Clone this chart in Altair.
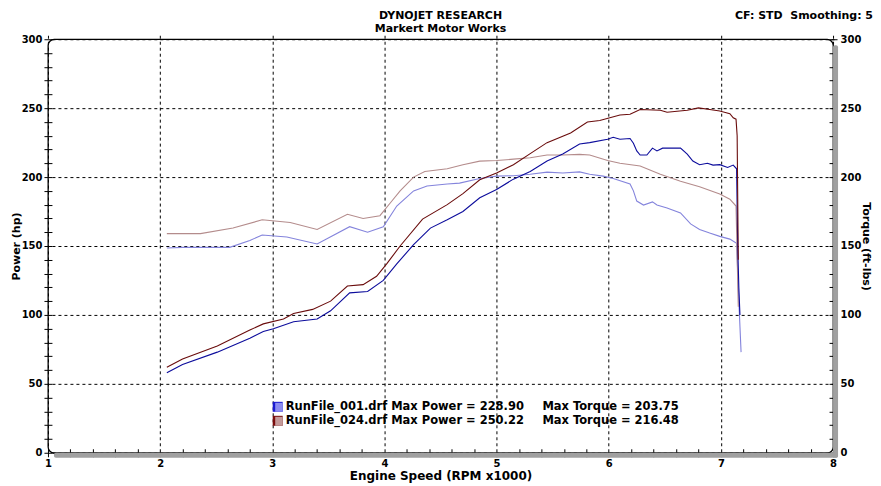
import altair as alt
import pandas as pd

# ---------------- data ----------------
rpm_p001 = [2.06, 2.20, 2.51, 2.80, 2.92, 3.01, 3.19, 3.40, 3.52, 3.69, 3.85, 3.99, 4.11, 4.26, 4.41,
            4.56, 4.70, 4.85, 5.00, 5.15, 5.30, 5.45, 5.59, 5.74, 5.83, 5.99, 6.04, 6.10, 6.19, 6.22,
            6.25, 6.28, 6.34, 6.39, 6.43, 6.48, 6.55, 6.64, 6.70, 6.75, 6.81, 6.88, 6.93, 6.99, 7.06,
            7.11, 7.14, 7.15, 7.16, 7.17]
pow_001 = [58, 64, 73, 83, 88, 90, 95, 97, 103, 116, 117, 125, 137, 151, 163,
           169, 175, 185, 191, 198.5, 204, 211.6, 216.7, 224, 225, 227.5, 228.9, 227.5, 228, 224.6,
           219, 216, 216, 221, 219, 221, 221, 221, 216.7, 211.6, 209, 210, 208.7, 209, 207,
           208.7, 206, 150, 120, 100]

rpm_p024 = [2.06, 2.20, 2.51, 2.80, 2.92, 3.10, 3.19, 3.36, 3.52, 3.67, 3.81, 3.93, 4.02, 4.14, 4.34,
            4.56, 4.70, 4.85, 5.00, 5.15, 5.30, 5.45, 5.66, 5.81, 5.92, 6.01, 6.10, 6.19, 6.28, 6.46,
            6.52, 6.70, 6.80, 6.90, 6.99, 7.08, 7.11, 7.135, 7.145, 7.155]
pow_024 = [62, 68, 77.5, 89, 93.5, 97, 101, 104, 110, 121, 122, 128, 137, 150, 169.5,
           180, 188, 198, 203, 209, 217, 225, 232, 240, 241, 243, 245, 245.6, 249, 248.5,
           247, 248.5, 250.2, 249, 248, 246, 243, 242, 230, 140]

rpm_t001 = [2.06, 2.20, 2.62, 2.80, 2.91, 3.13, 3.40, 3.69, 3.85, 3.99, 4.11, 4.26, 4.38, 4.56, 4.67,
            4.85, 5.00, 5.15, 5.30, 5.45, 5.59, 5.74, 5.83, 5.95, 6.04, 6.19, 6.22, 6.25, 6.31, 6.39,
            6.43, 6.52, 6.64, 6.73, 6.81, 6.90, 6.99, 7.08, 7.14, 7.16, 7.18]
trq_001 = [148.5, 149, 149, 154, 158, 156.5, 151.5, 164, 160, 164, 179, 190, 193.5, 195, 195.6,
           199, 200.7, 201, 202, 203.6, 203, 203.75, 202, 200.7, 199, 195, 190, 182.6, 179.7, 182,
           179.7, 177.5, 174, 166, 162, 159.4, 157, 155, 152, 110, 73]

rpm_t024 = [2.06, 2.36, 2.65, 2.91, 3.16, 3.40, 3.67, 3.81, 3.96, 4.05, 4.14, 4.26, 4.36, 4.56, 4.70,
            4.85, 5.00, 5.15, 5.30, 5.45, 5.59, 5.74, 5.83, 5.99, 6.10, 6.28, 6.46, 6.64, 6.81, 6.99,
            7.08, 7.135, 7.155]
trq_024 = [159, 159, 163, 169, 167, 162, 173, 170, 172, 181, 190, 200, 204, 206, 209,
           211.6, 212, 213, 214, 216, 216, 216.48, 216, 212, 210, 208, 202, 197, 193, 187.7,
           184, 179, 106]

series_names = ["RunFile_001 Power", "RunFile_001 Torque", "RunFile_024 Power", "RunFile_024 Torque"]
series_colors = ["#0c0c9c", "#8484dc", "#6a0c0c", "#b48c8c"]

legend_files = ["RunFile_001.drf", "RunFile_024.drf"]
legend_max_power = [228.90, 250.22]
legend_max_torque = [203.75, 216.48]
legend_dark = ["#1a1ad0", "#7a0c0c"]
legend_light = ["#8c8cf0", "#c49a9a"]

# ---------------- tables ----------------
power_df = pd.concat([
    pd.DataFrame({"rpm": rpm_p001, "value": pow_001, "series": series_names[0]}),
    pd.DataFrame({"rpm": rpm_p024, "value": pow_024, "series": series_names[2]}),
])
torque_df = pd.concat([
    pd.DataFrame({"rpm": rpm_t001, "value": trq_001, "series": series_names[1]}),
    pd.DataFrame({"rpm": rpm_t024, "value": trq_024, "series": series_names[3]}),
])

W, H = 786, 414
FONT = "DejaVu Sans"

x_vals = [round(1 + 0.2 * i, 1) for i in range(36)]
y_vals = list(range(0, 301, 10))

is_int = "abs(datum.value - round(datum.value)) < 0.001"
is_50 = "datum.value % 50 === 0"

x_axis = alt.Axis(
    values=x_vals, title="Engine Speed (RPM x1000)",
    labelExpr=f"{is_int} ? format(datum.value, 'd') : ''",
    grid=True, gridOpacity={"condition": {"test": is_int, "value": 1}, "value": 0},
    labelOverlap=False, labelFlush=False, labelPadding=2, titlePadding=2,
    titleFontSize=12,
)
left_axis = alt.Axis(
    values=y_vals, orient="left", title="Power (hp)",
    labelExpr=f"{is_50} ? datum.label : ''",
    grid=True, gridOpacity={"condition": {"test": is_50, "value": 1}, "value": 0},
    labelOverlap=False, labelPadding=2, titlePadding=0,
)
right_axis = alt.Axis(
    values=y_vals, orient="right", title="Torque (ft-lbs)",
    labelExpr=f"{is_50} ? datum.label : ''",
    grid=False, labelOverlap=False, labelPadding=3, titlePadding=0,
)

color = alt.Color("series:N", scale=alt.Scale(domain=series_names, range=series_colors), legend=None)
xenc = alt.X("rpm:Q", scale=alt.Scale(domain=[1, 8], nice=False, zero=False), axis=x_axis)

power = alt.Chart(power_df).mark_line(strokeWidth=1.1).encode(
    x=xenc,
    y=alt.Y("value:Q", scale=alt.Scale(domain=[0, 300], nice=False), axis=left_axis),
    color=color, order=alt.Order("rpm:Q"),
)
torque = alt.Chart(torque_df).mark_line(strokeWidth=1.1).encode(
    x=xenc,
    y=alt.Y("value:Q", scale=alt.Scale(domain=[0, 300], nice=False), axis=right_axis),
    color=color, order=alt.Order("rpm:Q"),
)

one = pd.DataFrame({"a": [0]})

# drop shadow of the frame
shadow_r = alt.Chart(one).mark_rect(color="#a0a0a0", cornerRadius=2).encode(
    x=alt.value(W), x2=alt.value(W + 5), y=alt.value(6), y2=alt.value(H + 5))
shadow_b = alt.Chart(one).mark_rect(color="#a0a0a0", cornerRadius=2).encode(
    x=alt.value(6), x2=alt.value(W + 5), y=alt.value(H), y2=alt.value(H + 5))

# header texts
hdr_style = dict(font=FONT, fontWeight="bold", fontSize=11, color="black", baseline="middle")
hdr1 = alt.Chart(one).mark_text(align="center", **hdr_style).encode(
    x=alt.value(W / 2), y=alt.value(-23), text=alt.value("DYNOJET RESEARCH"))
hdr2 = alt.Chart(one).mark_text(align="center", **hdr_style).encode(
    x=alt.value(W / 2), y=alt.value(-10), text=alt.value("Markert Motor Works"))
hdr3 = alt.Chart(one).mark_text(align="right", **hdr_style).encode(
    x=alt.value(W + 40), y=alt.value(-23), text=alt.value("CF: STD\u00a0 Smoothing: 5"))

# in-plot legend
leg_style = dict(font=FONT, fontWeight="bold", fontSize=11.5, color="black", baseline="middle")
leg_layers = []
for i, (fname, mp, mt) in enumerate(zip(legend_files, legend_max_power, legend_max_torque)):
    yc = 368 + 14 * i
    leg_layers.append(alt.Chart(one).mark_rect(color=legend_dark[i]).encode(
        x=alt.value(225), x2=alt.value(235), y=alt.value(yc - 5), y2=alt.value(yc + 5)))
    leg_layers.append(alt.Chart(one).mark_rect(color=legend_light[i]).encode(
        x=alt.value(227.5), x2=alt.value(235), y=alt.value(yc - 4), y2=alt.value(yc + 5)))
    leg_layers.append(alt.Chart(one).mark_text(align="left", **leg_style).encode(
        x=alt.value(238), y=alt.value(yc), text=alt.value(f"{fname} Max Power = {mp:.2f}")))
    leg_layers.append(alt.Chart(one).mark_text(align="left", **leg_style).encode(
        x=alt.value(495), y=alt.value(yc), text=alt.value(f"Max Torque = {mt:.2f}")))

chart = alt.layer(
    shadow_r, shadow_b, torque, power, hdr1, hdr2, hdr3, *leg_layers
).resolve_scale(y="independent").properties(
    width=W, height=H,
    autosize="none",
    padding={"left": 40, "top": 31, "right": 40, "bottom": 34},
    background="white",
).configure_view(
    stroke="black", strokeWidth=1.3, cornerRadius=6,
).configure_axis(
    labelFont=FONT, labelFontWeight="bold", labelFontSize=10, labelColor="black",
    titleFont=FONT, titleFontWeight="bold", titleFontSize=11, titleColor="black",
    tickColor="black", tickSize=8, tickWidth=1, offset=-4, domain=False,
    gridColor="black", gridDash=[3, 3], gridWidth=1,
)

chart.save("out.html", embed_options={"renderer": "svg", "actions": False})
